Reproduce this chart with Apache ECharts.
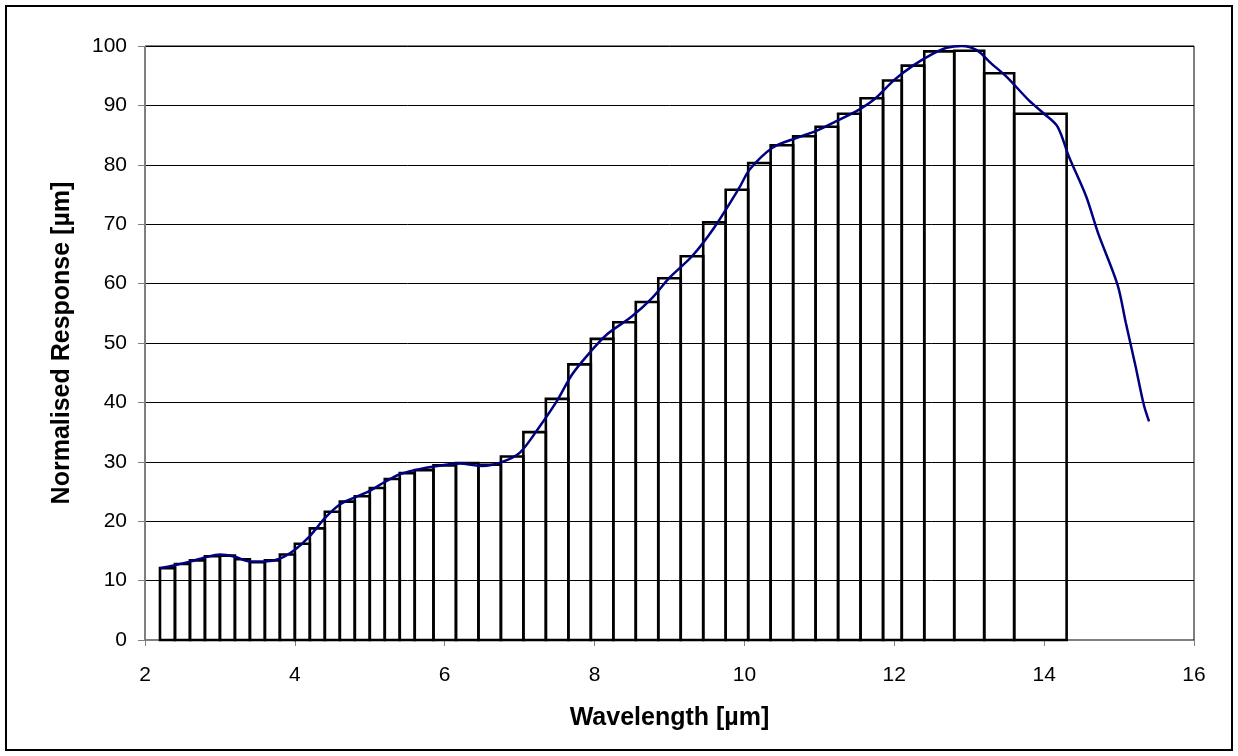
<!DOCTYPE html>
<html>
<head>
<meta charset="utf-8">
<script src="https://cdn.jsdelivr.net/npm/echarts@6/dist/echarts.min.js"></script>
<style>
html,body{margin:0;padding:0;background:#fff;}
#chart{width:1238px;height:756px;}
</style>
</head>
<body>
<div id="chart"></div>
<script>
// Bar (band) edges in µm and band responses
const barEdges = [2.2,2.4,2.6,2.8,3.0,3.2,3.4,3.6,3.8,4.0,4.2,4.4,4.6,4.8,5.0,5.2,5.4,5.6,5.85,6.15,6.45,6.75,7.05,7.35,7.65,7.95,8.25,8.55,8.85,9.15,9.45,9.75,10.05,10.35,10.65,10.95,11.25,11.55,11.85,12.1,12.4,12.8,13.2,13.6,14.3];
const barHeights = [12.1,12.8,13.4,14.1,14.2,13.6,13.1,13.4,14.4,16.2,18.8,21.6,23.3,24.2,25.6,27.1,28.1,28.6,29.4,29.8,29.5,30.9,35.0,40.6,46.4,50.7,53.5,56.9,60.9,64.6,70.3,75.8,80.3,83.3,84.8,86.4,88.6,91.2,94.2,96.7,99.1,99.2,95.4,88.6];

// Continuous response curve
const curveWavelength = [2.2,2.4,2.6,2.8,3.0,3.2,3.4,3.6,3.8,4.0,4.2,4.4,4.6,4.8,5.0,5.2,5.4,5.6,5.9,6.2,6.5,6.75,7.0,7.27,7.5,7.7,7.93,8.16,8.5,8.77,9.0,9.3,9.6,9.93,10.07,10.38,10.69,10.96,11.22,11.53,11.75,12.0,12.25,12.5,12.7,12.9,13.1,13.3,13.5,13.8,14.0,14.18,14.33,14.56,14.72,14.98,15.09,15.22,15.33,15.4];
const curveResponse = [12.1,12.6,13.2,13.9,14.4,14.0,13.2,13.2,13.7,15.2,17.5,20.5,22.8,24.0,25.1,26.6,27.9,28.6,29.3,29.7,29.3,29.9,31.5,36.0,40.3,44.7,48.3,51.4,54.5,57.6,61.0,64.6,69.5,76.1,79.2,82.9,84.5,85.7,87.3,89.3,91.2,94.3,96.7,98.6,99.7,100.0,99.3,97.0,94.8,90.8,88.6,86.4,81.4,74.7,68.5,59.8,53.4,46.1,39.6,36.8];

const xTicks = {min: 2, max: 16, interval: 2};
const yTicks = {min: 0, max: 100, interval: 10};

const barData = barHeights.map((h, i) => [barEdges[i], barEdges[i + 1], h]);
const curveData = curveWavelength.map((w, i) => [w, curveResponse[i]]);

const chart = echarts.init(document.getElementById('chart'), null, {renderer: 'canvas'});
const font = '"Liberation Sans", Arial, sans-serif';

chart.setOption({
  animation: false,
  backgroundColor: '#fff',
  graphic: [{
    type: 'rect',
    shape: {x: 6, y: 6, width: 1226, height: 744},
    style: {fill: 'none', stroke: '#000', lineWidth: 2},
    z: 100
  }],
  grid: {
    left: 145, right: 44, top: 46, bottom: 116,
    show: true, borderColor: '#000', borderWidth: 1, backgroundColor: 'transparent'
  },
  xAxis: {
    type: 'value',
    min: xTicks.min, max: xTicks.max, interval: xTicks.interval,
    name: 'Wavelength [µm]',
    nameLocation: 'middle',
    nameGap: 66,
    nameTextStyle: {fontFamily: font, fontSize: 25, fontWeight: 'bold', color: '#000'},
    axisLine: {show: true, onZero: false, lineStyle: {color: '#808080', width: 1}},
    axisTick: {show: true, inside: false, length: 6, lineStyle: {color: '#808080'}},
    axisLabel: {fontFamily: font, fontSize: 21, color: '#000', margin: 25},
    splitLine: {show: false}
  },
  yAxis: {
    type: 'value',
    min: yTicks.min, max: yTicks.max, interval: yTicks.interval,
    name: 'Normalised Response [µm]',
    nameLocation: 'middle',
    nameGap: 70,
    nameTextStyle: {fontFamily: font, fontSize: 25, fontWeight: 'bold', color: '#000'},
    axisLine: {show: true, lineStyle: {color: '#808080', width: 1}},
    axisTick: {show: true, inside: false, length: 7, lineStyle: {color: '#808080'}},
    axisLabel: {fontFamily: font, fontSize: 21, color: '#000', margin: 18},
    splitLine: {show: true, lineStyle: {color: '#000', width: 1}}
  },
  series: [{
    type: 'custom',
    data: barData,
    encode: {x: [0, 1], y: 2},
    renderItem: function (params, api) {
      const p1 = api.coord([api.value(0), api.value(2)]);
      const p2 = api.coord([api.value(1), 0]);
      return {
        type: 'rect',
        shape: {x: p1[0], y: p1[1], width: p2[0] - p1[0], height: p2[1] - p1[1]},
        style: {fill: 'none', stroke: '#000', lineWidth: 2.6}
      };
    },
    z: 2
  }, {
    type: 'line',
    data: curveData,
    smooth: 0.3,
    showSymbol: false,
    symbol: 'none',
    lineStyle: {color: '#000080', width: 2.5},
    z: 3
  }]
});
</script>
</body>
</html>
